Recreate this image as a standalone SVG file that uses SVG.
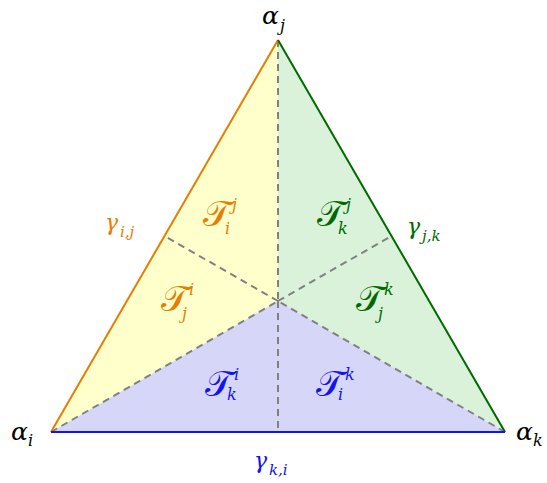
<svg xmlns="http://www.w3.org/2000/svg" width="547" height="483" viewBox="0 0 547 483">
<style>
.m{font-family:"DejaVu Serif","Liberation Serif",serif;font-style:italic}
.T{font-size:36px;font-style:normal}
.s{font-size:16px}
.g{font-size:22px}
.gs{font-size:15px}
.a{font-size:25px;fill:#000}
.as{font-size:16px}
.or{fill:#e67e00}.gr{fill:#006a00}.bl{fill:#1414ee}
.d{stroke:#808080;stroke-width:2;stroke-dasharray:7,5;fill:none}
</style>
<g id="regions">
<polygon id="yellow" points="51,432 278,40 278,301" fill="#ffffcc"/>
<polygon id="green" points="278,40 505,432 278,301" fill="#d9f2d9"/>
<polygon id="blue" points="51,432 505,432 278,301" fill="#d6d6f8"/>
</g>
<g id="connectors">
<line class="d" x1="278" y1="40" x2="278" y2="301"/>
<line class="d" x1="51" y1="432" x2="278" y2="301"/>
<line class="d" x1="505" y1="432" x2="278" y2="301"/>
<line class="d" x1="278" y1="301" x2="278" y2="432"/>
<line class="d" x1="278" y1="301" x2="164.5" y2="236"/>
<line class="d" x1="278" y1="301" x2="391.5" y2="236"/>
<line x1="51" y1="432" x2="278" y2="40" stroke="#e67e00" stroke-width="2"/>
<line x1="278" y1="40" x2="505" y2="432" stroke="#006a00" stroke-width="2"/>
<line x1="51" y1="432" x2="505" y2="432" stroke="#1414ee" stroke-width="2"/>
</g>
<g id="vertex-i"><text class="m a" x="11" y="440">α<tspan class="as" x="28" y="446">i</tspan></text></g>
<g id="vertex-j"><text class="m a" x="262" y="24">α<tspan class="as" x="280" y="31">j</tspan></text></g>
<g id="vertex-k"><text class="m a" x="516" y="440">α<tspan class="as" x="533" y="446">k</tspan></text></g>
<g id="T-i-j"><text class="m or" x="203" y="226"><tspan class="T">𝒯</tspan><tspan class="s" x="232" y="210">j</tspan><tspan class="s" x="225" y="234">i</tspan></text></g>
<g id="T-k-j"><text class="m gr" x="317" y="226"><tspan class="T">𝒯</tspan><tspan class="s" x="346" y="210">j</tspan><tspan class="s" x="338" y="234">k</tspan></text></g>
<g id="T-j-i"><text class="m or" x="161" y="311"><tspan class="T">𝒯</tspan><tspan class="s" x="189" y="295">i</tspan><tspan class="s" x="182" y="319">j</tspan></text></g>
<g id="T-j-k"><text class="m gr" x="356" y="311"><tspan class="T">𝒯</tspan><tspan class="s" x="384" y="295">k</tspan><tspan class="s" x="378" y="319">j</tspan></text></g>
<g id="T-k-i"><text class="m bl" x="205" y="396"><tspan class="T">𝒯</tspan><tspan class="s" x="234" y="380">i</tspan><tspan class="s" x="227" y="400">k</tspan></text></g>
<g id="T-i-k"><text class="m bl" x="316" y="396"><tspan class="T">𝒯</tspan><tspan class="s" x="345" y="380">k</tspan><tspan class="s" x="338" y="400">i</tspan></text></g>
<g id="gamma-ij"><text class="m g or" x="105" y="230">γ<tspan class="gs" x="120" y="237">i,j</tspan></text></g>
<g id="gamma-jk"><text class="m g gr" x="407" y="234">γ<tspan class="gs" x="422" y="241">j,k</tspan></text></g>
<g id="gamma-ki"><text class="m g bl" x="254" y="468">γ<tspan class="gs" x="269" y="475">k,i</tspan></text></g>
</svg>
